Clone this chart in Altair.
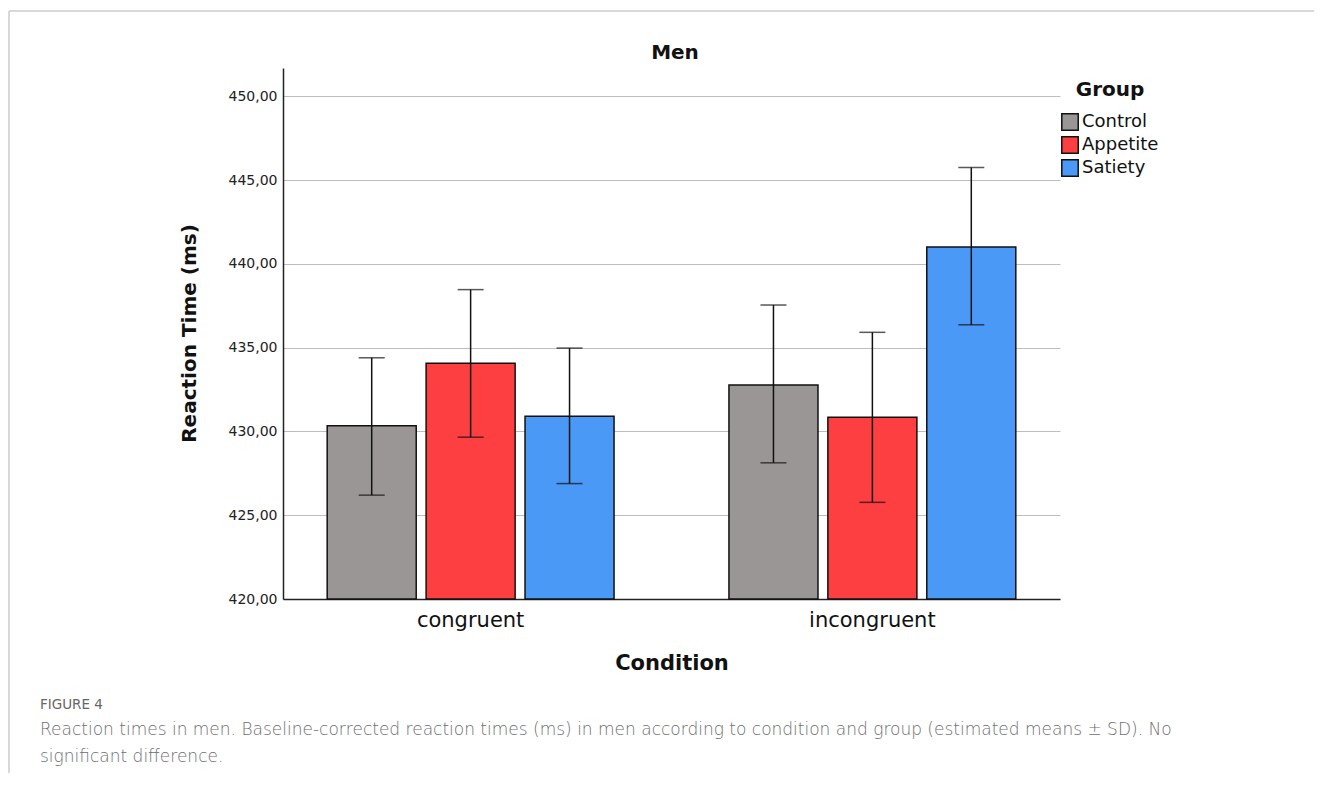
import altair as alt
import pandas as pd

conditions = ["congruent", "congruent", "congruent", "incongruent", "incongruent", "incongruent"]
groups = ["Control", "Appetite", "Satiety", "Control", "Appetite", "Satiety"]
means = [430.34, 434.07, 430.91, 432.78, 430.85, 441.02]
lows = [426.20, 429.66, 426.89, 428.13, 425.77, 436.37]
highs = [434.40, 438.47, 434.98, 437.55, 435.92, 445.76]

group_order = ["Control", "Appetite", "Satiety"]
group_colors = ["#9b9696", "#fd3f42", "#4b99f6"]
y_ticks = [420, 425, 430, 435, 440, 445, 450]

chart_title = "Men"
caption_head = "FIGURE 4"
caption_lines = [
    "Reaction times in men. Baseline-corrected reaction times (ms) in men according to condition and group (estimated means \u00b1 SD). No",
    "significant difference.",
]

df = pd.DataFrame({"Condition": conditions, "Group": groups, "mean": means, "lo": lows, "hi": highs})

FONT = "DejaVu Sans"

x_enc = alt.X("Condition:N", title="Condition",
              scale=alt.Scale(paddingInner=0.286, paddingOuter=0.11),
              axis=alt.Axis(labelAngle=0, labelFontSize=21, labelColor="#111", labelPadding=10,
                            ticks=False, domainColor="#222", domainWidth=1.5,
                            titleFontSize=21, titleFontWeight="bold", titleColor="#111",
                            titleBaseline="middle", titleY=64, labelFont=FONT, titleFont=FONT))
xo_enc = alt.XOffset("Group:N", sort=group_order, scale=alt.Scale(paddingInner=0.1, paddingOuter=0))

y_scale = alt.Scale(domain=[420, 451.7], nice=False, zero=False)

bars = alt.Chart(df).mark_bar(stroke="#111", strokeWidth=1.5).encode(
    x=x_enc,
    xOffset=xo_enc,
    y=alt.Y("mean:Q", scale=y_scale, title="Reaction Time (ms)",
            axis=alt.Axis(values=y_ticks, labelExpr="replace(format(datum.value, '.2f'), '.', ',')",
                          labelFontSize=14, labelColor="#222", labelPadding=6, ticks=False,
                          grid=True, gridColor="#bdbdbd", gridWidth=1.2,
                          domainColor="#222", domainWidth=1.5,
                          titleFontSize=20, titleFontWeight="bold", titleColor="#111",
                          titleX=-84, titleY=265, labelFont=FONT, titleFont=FONT)),
    y2=alt.datum(420),
    color=alt.Color("Group:N", sort=group_order,
                    scale=alt.Scale(domain=group_order, range=group_colors),
                    legend=alt.Legend(title="Group", orient="none", legendX=778, legendY=12,
                                      titleFontSize=20, titleFontWeight="bold", titleColor="#111",
                                      titleAnchor="middle", titlePadding=13, titleFont=FONT,
                                      labelFontSize=18, labelColor="#111", labelFont=FONT,
                                      symbolType="square", symbolSize=270,
                                      symbolStrokeColor="#111", symbolStrokeWidth=1.5,
                                      symbolOpacity=1, rowPadding=-1, labelOffset=3)),
)

rules = alt.Chart(df).mark_rule(color="#111", strokeWidth=1.5).encode(
    x="Condition:N", xOffset=xo_enc, y=alt.Y("lo:Q", scale=y_scale), y2="hi:Q"
)
cap_hi = alt.Chart(df).mark_tick(color="#111", thickness=1.5, size=26).encode(
    x="Condition:N", xOffset=xo_enc, y=alt.Y("hi:Q", scale=y_scale)
)
cap_lo = alt.Chart(df).mark_tick(color="#111", thickness=1.5, size=26).encode(
    x="Condition:N", xOffset=xo_enc, y=alt.Y("lo:Q", scale=y_scale)
)

dummy = alt.Chart(pd.DataFrame({"k": [0]}))
frame_top = dummy.mark_rule(color="#cccccc", strokeWidth=1.5).encode(
    x=alt.value(-274), x2=alt.value(1040), y=alt.value(-57))
frame_left = dummy.mark_rule(color="#cccccc", strokeWidth=1.5).encode(
    x=alt.value(-274), y=alt.value(-57), y2=alt.value(720))

text_df = pd.DataFrame({"t": [chart_title, caption_head] + caption_lines, "row": [0, 1, 2, 3]})
title_mark = alt.Chart(text_df[text_df.row == 0]).mark_text(
    align="center", baseline="middle", fontSize=20, color="#111", font=FONT, fontWeight="bold"
).encode(text="t:N", x=alt.value(392), y=alt.value(-15))
caption_head_mark = alt.Chart(text_df[text_df.row == 1]).mark_text(
    align="left", baseline="middle", fontSize=13.5, color="#666666", font=FONT
).encode(text="t:N", x=alt.value(-243), y=alt.value(637))
caption_l1 = alt.Chart(text_df[text_df.row == 2]).mark_text(
    align="left", baseline="middle", fontSize=17, color="#6e6e6e", font=FONT, fontWeight=300
).encode(text="t:N", x=alt.value(-243), y=alt.value(662))
caption_l2 = alt.Chart(text_df[text_df.row == 3]).mark_text(
    align="left", baseline="middle", fontSize=17, color="#6e6e6e", font=FONT, fontWeight=300
).encode(text="t:N", x=alt.value(-243), y=alt.value(689))

chart = alt.layer(
    frame_top, frame_left, bars, rules, cap_hi, cap_lo,
    title_mark, caption_head_mark, caption_l1, caption_l2
).properties(
    width=777, height=531,
    background="white",
    autosize=alt.AutoSizeParams(type="none"),
    padding={"left": 275, "top": 60, "right": 254, "bottom": 174},
).configure_view(strokeWidth=0, stroke="transparent")

chart.save("out.html", embed_options={"renderer": "svg", "actions": False})
